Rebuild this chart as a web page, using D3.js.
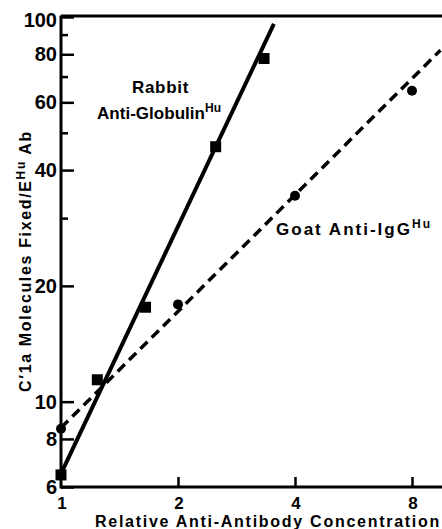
<!DOCTYPE html>
<html>
<head>
<meta charset="utf-8">
<script src="https://cdn.jsdelivr.net/npm/d3@7"></script>
<style>
  body { margin: 0; background: #fff; }
  text { font-family: "Liberation Sans", Arial, sans-serif; font-weight: bold; fill: #000; }
</style>
</head>
<body>
<svg id="chart" width="442" height="529"></svg>
<script>
// values
const rabbitX = [1, 1.24, 1.65, 2.5, 3.33];
const rabbitY = [6.45, 11.4, 17.6, 46, 78];
const goatX = [1, 2, 4, 8];
const goatY = [8.5, 17.9, 34.3, 64.3];
// fitted lines (end points as drawn)
const rabbitFit = [[1, 6.5], [3.53, 96]];
const goatFit = [[1, 8.55], [9.47, 82]];
const yMajor = [6, 8, 10, 20, 40, 60, 80, 100];
const yMinor = [30, 50, 70, 90];
const xTicks = [1, 2, 4, 8];

const W = 442, H = 529;
const svg = d3.select("#chart");

const x = d3.scaleLog().domain([1, 8]).range([61, 412]);
const y = d3.scaleLog().domain([6, 100]).range([487, 17]);

// stretch a text element to a given width with letter spacing (original type is wide)
function fitWidth(sel, target) {
  const node = sel.node();
  const n = node.textContent.length;
  const w = node.getComputedTextLength();
  sel.style("letter-spacing", ((target - w) / n) + "px");
  return sel;
}

// frame: left axis, top border, bottom axis
const frame = svg.append("g").attr("stroke", "#000").attr("stroke-width", 3).attr("fill", "none");
frame.append("line").attr("x1", 61).attr("x2", 61).attr("y1", y(100) - 1.5).attr("y2", y(6) + 1.5);
frame.append("line").attr("x1", 61).attr("x2", W).attr("y1", y(100) - 1).attr("y2", y(100) - 1);
frame.append("line").attr("x1", 61).attr("x2", W).attr("y1", y(6)).attr("y2", y(6));

// y axis ticks
const yAxis = d3.axisRight(y).tickValues(yMajor).tickSize(13).tickFormat("");
const gy = svg.append("g").attr("transform", "translate(61,0)").call(yAxis);
gy.select(".domain").remove();
gy.selectAll(".tick line").attr("stroke-width", 2.5);
const yMinorAxis = d3.axisRight(y).tickValues(yMinor).tickSize(7).tickFormat("");
const gy2 = svg.append("g").attr("transform", "translate(61,0)").call(yMinorAxis);
gy2.select(".domain").remove();
gy2.selectAll(".tick line").attr("stroke-width", 2.5);

svg.append("g").selectAll("text").data(yMajor).join("text")
  .attr("x", 57).attr("y", d => y(d) + (d === 100 ? 10 : 7))
  .attr("text-anchor", "end")
  .style("font-size", "20px")
  .text(d => d);

// x axis ticks
const xAxis = d3.axisTop(x).tickValues(xTicks.slice(1)).tickSize(10).tickFormat("");
const gx = svg.append("g").attr("transform", `translate(0,${y(6)})`).call(xAxis);
gx.select(".domain").remove();
gx.selectAll(".tick line").attr("stroke-width", 2.5);

svg.append("g").selectAll("text").data(xTicks).join("text")
  .attr("x", d => x(d) + 1).attr("y", 509)
  .attr("text-anchor", "middle")
  .style("font-size", "17px")
  .text(d => d);

// axis titles
const xl = svg.append("text")
  .attr("x", 95).attr("y", 527)
  .style("font-size", "16px")
  .text("Relative Anti-Antibody Concentration");
fitWidth(xl, 346);

const yl = svg.append("text")
  .attr("transform", "translate(31,392) rotate(-90)")
  .style("font-size", "16px");
yl.append("tspan").text("C\u20321a Molecules Fixed/E");
yl.append("tspan").attr("dy", -6).style("font-size", "12px").text("Hu");
yl.append("tspan").attr("dy", 6).text(" Ab");
fitWidth(yl, 262);

// fitted lines
const line = d3.line().x(d => x(d[0])).y(d => y(d[1]));
svg.append("path").datum(rabbitFit).attr("d", line)
  .attr("fill", "none").attr("stroke", "#000").attr("stroke-width", 4);
svg.append("path").datum(goatFit).attr("d", line)
  .attr("fill", "none").attr("stroke", "#000").attr("stroke-width", 3.5)
  .attr("stroke-dasharray", "10,6");

// markers
svg.append("g").selectAll("rect").data(rabbitX).join("rect")
  .attr("x", (d) => x(d) - 5.5).attr("y", (d, i) => y(rabbitY[i]) - 5.5)
  .attr("width", 11).attr("height", 11).attr("fill", "#000");
svg.append("g").selectAll("circle").data(goatX).join("circle")
  .attr("cx", d => x(d)).attr("cy", (d, i) => y(goatY[i]))
  .attr("r", 5).attr("fill", "#000");

// series labels
const rb = svg.append("text").attr("x", 132).attr("y", 93)
  .style("font-size", "17px").text("Rabbit");
fitWidth(rb, 57);
const rl = svg.append("text").attr("x", 97).attr("y", 119).style("font-size", "17px");
rl.append("tspan").text("Anti-Globulin");
rl.append("tspan").attr("dy", -7).style("font-size", "12px").text("Hu");
fitWidth(rl, 124);

const gl = svg.append("text").attr("x", 276).attr("y", 235).style("font-size", "17px");
gl.append("tspan").text("Goat Anti-IgG");
gl.append("tspan").attr("dy", -7).style("font-size", "12px").text("Hu");
fitWidth(gl, 156);
</script>
</body>
</html>
